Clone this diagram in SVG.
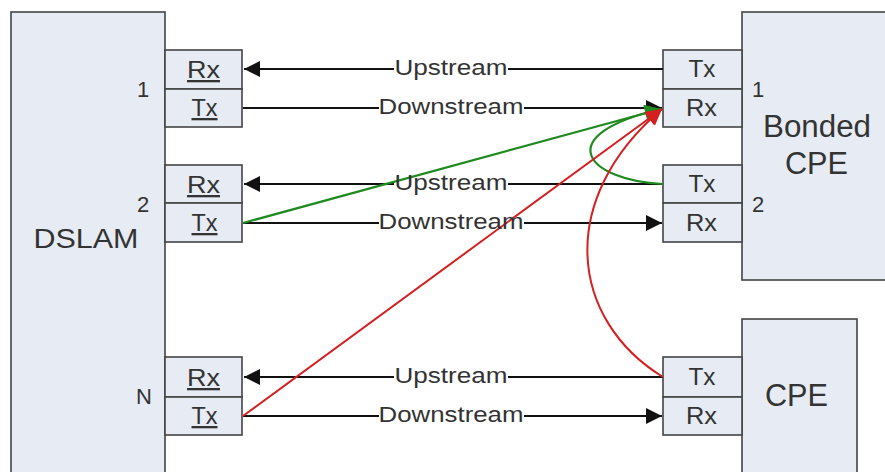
<svg xmlns="http://www.w3.org/2000/svg" width="885" height="472" viewBox="0 0 885 472">
<defs>
<style>
.box{fill:#e6ebf4;stroke:#444;stroke-width:1.6}
.t{font-family:"Liberation Sans",Arial,sans-serif;fill:#333}
.p{font-size:23px;text-anchor:middle}
.u{text-decoration:underline}
.n{font-size:22px}
.big{font-size:27px;text-anchor:middle}
.big2{font-size:31px;text-anchor:middle}
.lbl{font-size:22px;text-anchor:middle}
.k{stroke:#111;stroke-width:2.2;fill:none}
.g{stroke:#1f8a1f;stroke-width:2.2;fill:none}
.r{stroke:#d42020;stroke-width:2;fill:none}
</style>
<marker id="ak" viewBox="0 0 10 10" refX="10" refY="5" markerWidth="25" markerHeight="16" markerUnits="userSpaceOnUse" orient="auto"><path d="M0,0L10,5L0,10z" fill="#111"/></marker>
<marker id="ag" viewBox="0 0 10 10" refX="10" refY="5" markerWidth="25" markerHeight="16" markerUnits="userSpaceOnUse" orient="auto"><path d="M0,0L10,5L0,10z" fill="#1f8a1f"/></marker>
<marker id="ar" viewBox="0 0 10 10" refX="10" refY="5" markerWidth="25" markerHeight="16" markerUnits="userSpaceOnUse" orient="auto"><path d="M0,0L10,5L0,10z" fill="#d42020"/></marker>
</defs>
<rect width="885" height="472" fill="#fff"/>

<g id="dslam">
<rect class="box" x="11" y="12" width="154" height="470"/>
<text class="t big" x="86" y="248" textLength="105" lengthAdjust="spacingAndGlyphs">DSLAM</text>
<text class="t n" x="137" y="97">1</text>
<text class="t n" x="137" y="212">2</text>
<text class="t n" x="136" y="404">N</text>
</g>
<g id="dslam-port1">
<rect class="box" x="165" y="50" width="77" height="39"/>
<rect class="box" x="165" y="89" width="77" height="38"/>
<text class="t p u" x="203.5" y="78" textLength="33" lengthAdjust="spacingAndGlyphs">Rx</text>
<text class="t p u" x="204.5" y="116" textLength="26" lengthAdjust="spacingAndGlyphs">Tx</text>
</g>
<g id="dslam-port2">
<rect class="box" x="165" y="165" width="77" height="38"/>
<rect class="box" x="165" y="203" width="77" height="39"/>
<text class="t p u" x="203.5" y="193" textLength="33" lengthAdjust="spacingAndGlyphs">Rx</text>
<text class="t p u" x="204.5" y="231" textLength="26" lengthAdjust="spacingAndGlyphs">Tx</text>
</g>
<g id="dslam-portN">
<rect class="box" x="165" y="357" width="77" height="40"/>
<rect class="box" x="165" y="397" width="77" height="38"/>
<text class="t p u" x="203.5" y="386" textLength="33" lengthAdjust="spacingAndGlyphs">Rx</text>
<text class="t p u" x="204.5" y="424" textLength="26" lengthAdjust="spacingAndGlyphs">Tx</text>
</g>

<g id="bonded-cpe">
<rect class="box" x="742" y="12" width="150" height="268"/>
<text class="t big2" x="817" y="137" textLength="108" lengthAdjust="spacingAndGlyphs">Bonded</text>
<text class="t big2" x="816.5" y="174" textLength="63" lengthAdjust="spacingAndGlyphs">CPE</text>
<text class="t n" x="752" y="97">1</text>
<text class="t n" x="752" y="212">2</text>
</g>
<g id="bonded-port1">
<rect class="box" x="663" y="50" width="79" height="39"/>
<rect class="box" x="663" y="89" width="79" height="38"/>
<text class="t p" x="702" y="77" textLength="27" lengthAdjust="spacingAndGlyphs">Tx</text>
<text class="t p" x="701.5" y="116" textLength="31" lengthAdjust="spacingAndGlyphs">Rx</text>
</g>
<g id="bonded-port2">
<rect class="box" x="663" y="165" width="79" height="38"/>
<rect class="box" x="663" y="203" width="79" height="39"/>
<text class="t p" x="702" y="192" textLength="27" lengthAdjust="spacingAndGlyphs">Tx</text>
<text class="t p" x="701.5" y="231" textLength="31" lengthAdjust="spacingAndGlyphs">Rx</text>
</g>
<g id="cpe">
<rect class="box" x="742" y="319" width="115" height="170"/>
<text class="t big2" x="796.5" y="406" textLength="63" lengthAdjust="spacingAndGlyphs">CPE</text>
</g>
<g id="cpe-port">
<rect class="box" x="663" y="357" width="79" height="40"/>
<rect class="box" x="663" y="397" width="79" height="38"/>
<text class="t p" x="702" y="385" textLength="27" lengthAdjust="spacingAndGlyphs">Tx</text>
<text class="t p" x="701.5" y="424" textLength="31" lengthAdjust="spacingAndGlyphs">Rx</text>
</g>

<g id="connectors">
<path class="k" d="M394,69H244" marker-end="url(#ak)"/>
<path class="k" d="M663,69H508"/>
<path class="k" d="M243,108H379"/>
<path class="k" d="M524,108H662" marker-end="url(#ak)"/>
<path class="k" d="M394,184H244" marker-end="url(#ak)"/>
<path class="k" d="M663,184H508"/>
<path class="k" d="M243,223H379"/>
<path class="k" d="M524,223H662" marker-end="url(#ak)"/>
<path class="k" d="M394,377H244" marker-end="url(#ak)"/>
<path class="k" d="M663,377H508"/>
<path class="k" d="M243,416H379"/>
<path class="k" d="M524,416H662" marker-end="url(#ak)"/>
<path class="g" d="M243,223L661,109" marker-end="url(#ag)"/>
<path class="g" d="M663,184C585,180 550,135 661,109" marker-end="url(#ag)"/>
<path class="r" d="M243,416L662,109" marker-end="url(#ar)"/>
<path class="r" d="M663,377C570,320 555,200 662,109" marker-end="url(#ar)"/>
<text class="t lbl" x="451" y="75" textLength="113" lengthAdjust="spacingAndGlyphs">Upstream</text>
<text class="t lbl" x="451" y="114" textLength="145" lengthAdjust="spacingAndGlyphs">Downstream</text>
<text class="t lbl" x="451" y="190" textLength="113" lengthAdjust="spacingAndGlyphs">Upstream</text>
<text class="t lbl" x="451" y="229" textLength="145" lengthAdjust="spacingAndGlyphs">Downstream</text>
<text class="t lbl" x="451" y="383" textLength="113" lengthAdjust="spacingAndGlyphs">Upstream</text>
<text class="t lbl" x="451" y="422" textLength="145" lengthAdjust="spacingAndGlyphs">Downstream</text>
</g>
</svg>
